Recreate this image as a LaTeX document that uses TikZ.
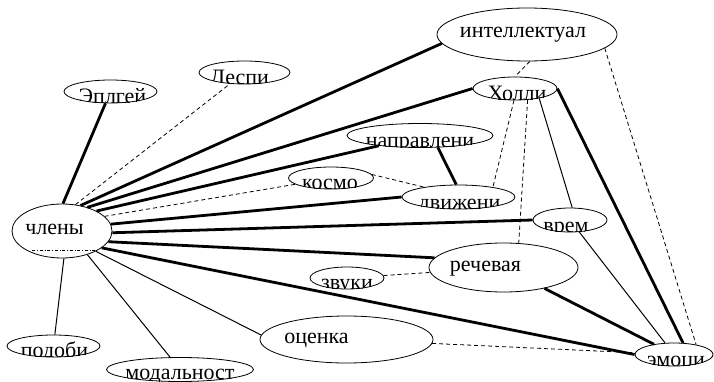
\documentclass[tikz,border=0pt]{standalone}
\usepackage{fontspec}
\setmainfont{Liberation Serif}
\usetikzlibrary{shapes.geometric}

\newcommand{\wordfont}{\fontsize{22}{26}\selectfont}

\tikzset{
  oval/.style 2 args={ellipse, draw, line width=.8pt, inner sep=0pt,
    minimum width=#1, minimum height=#2},
  word/.style n args={3}{path picture={
    \node [anchor=base, shape=rectangle, draw=none, inner sep=0pt,
      minimum width=0pt, minimum height=0pt, font=\wordfont]
      at ([shift={(#2,#3)}]path picture bounding box.center) {#1};}},
  strong/.style={line width=2.8pt},
  weak/.style={line width=1pt},
  loose/.style={line width=.8pt, dash pattern=on 4pt off 3pt},
}

\begin{document}
\begin{tikzpicture}[x=1pt, y=-1pt]
\useasboundingbox (0,0) rectangle (714,382);

\node (chl)   [oval={100pt}{54pt}, word={члены}{-7.5}{3}]        at (62,231)    {};
\node (intel) [oval={180pt}{53pt}, word={интеллектуал}{-4}{3}]   at (527,34.5)  {};
\node (holl)  [oval={84pt}{23pt},  word={Холли}{2}{12}]          at (515,88.5)  {};
\node (napr)  [oval={146pt}{24pt}, word={направлени}{0}{12.5}]   at (420,135.5) {};
\node (kosm)  [oval={85pt}{22pt},  word={космо}{-1}{11.5}]       at (331,178)   {};
\node (dvizh) [oval={113pt}{24pt}, word={движени}{1}{12.5}]      at (458.5,197) {};
\node (vrem)  [oval={74pt}{24pt},  word={врем}{-4}{12.5}]        at (570,220)   {};
\node (rech)  [oval={149pt}{49pt}, word={речевая}{-18}{4}]       at (503.5,267.5) {};
\node (zvuk)  [oval={74pt}{22pt},  word={звуки}{0}{11.5}]        at (347,278)   {};
\node (ocen)  [oval={173pt}{47pt}, word={оценка}{-30}{4}]        at (346.5,339.5) {};
\node (emoc)  [oval={78pt}{23pt},  word={эмоци}{2}{12}]          at (674,354.5) {};
\node (podob) [oval={93pt}{22pt},  word={подоби}{1}{11.5}]       at (53.5,346)  {};
\node (modal) [oval={147pt}{24pt}, word={модальност}{0}{10}]     at (180,369.5) {};
\node (epl)   [oval={93pt}{23pt},  word={Эплгей}{2}{12}]         at (110.5,91.5) {};
\node (desp)  [oval={91pt}{23pt},  word={Деспи}{-5}{12}]         at (244.5,72.5) {};

\draw [line width=.5pt, dash dot] ([shift={(-30,19)}]chl.center) -- ([shift={(33,19)}]chl.center);

\path
    (chl.88)  edge [strong] (epl)
    (chl.63)  edge [loose]  (desp)
    (chl.54)  edge [strong] (intel.186)
    (chl.43)  edge [strong] (holl.west)
    (chl.30)  edge [strong] (napr.194)
    (chl.19)  edge [loose]  (kosm.190)
    (chl.8)   edge [strong] (dvizh.west)
    (chl.-2)  edge [strong] (vrem.west)
    (chl.-13) edge [strong] (rech.172)
    (chl.-23) edge [strong] (emoc.west)
    (chl.-31) edge [weak]   (ocen.177)
    (chl.-43) edge [weak]   (modal)
    (chl.-86) edge [weak]   (podob)
    (intel.-84) edge [loose] (holl.north)
    (intel.-10) edge [loose] (emoc.24)
    (holl.-95) edge [loose]  (dvizh.16)
    (holl.-42) edge [loose]  (rech.58)
    (holl.-22) edge [weak]   (vrem.80)
    (holl.east) edge [strong] (emoc.52)
    (napr.-34) edge [strong] (dvizh.100)
    (kosm.5)   edge [loose]  (dvizh.164)
    (vrem)  edge [weak]   (emoc)
    (rech)  edge [strong] (emoc)
    (zvuk)  edge [loose]  (rech)
    (ocen)  edge [loose]  (emoc);
\end{tikzpicture}
\end{document}
